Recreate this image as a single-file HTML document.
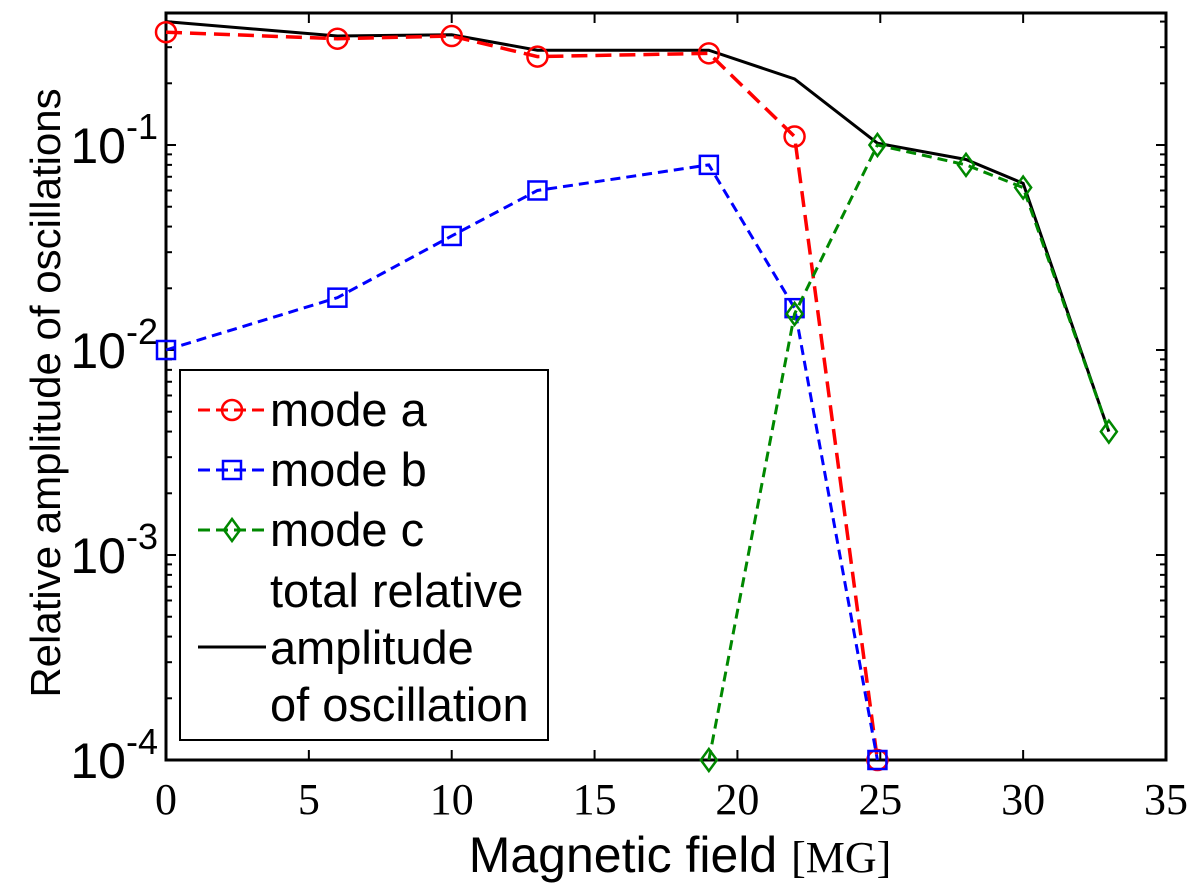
<!DOCTYPE html>
<html><head><meta charset="utf-8"><style>
body{margin:0;background:#fff;}
svg{display:block;font-family:"Liberation Sans",sans-serif;}
</style></head><body>
<svg width="1200" height="891">
<g id="plot"></g>
</svg>
<script>
const xTicks=[0,5,10,15,20,25,30,35];
const yDecades=[-4,-3,-2,-1];
const modeAx=[0,6,10,13,19,22,24.9];
const modeAy=[0.355,0.33,0.34,0.27,0.28,0.11,0.0001];
const modeBx=[0,6,10,13,19,22,24.9];
const modeBy=[0.01,0.018,0.036,0.06,0.08,0.016,0.0001];
const modeCx=[19,22,24.9,28,30,33];
const modeCy=[0.0001,0.015,0.1,0.08,0.062,0.004];
const totX=[0,6,10,13,19,22,24.9,28,30,33];
const totY=[0.4,0.34,0.345,0.29,0.29,0.21,0.102,0.085,0.065,0.004];

const L=166,R=1166,T=13,B=760;
const sx=v=>L+(v/35)*(R-L);
const sy=v=>B-(Math.log10(v)+4)*205;
const NS="http://www.w3.org/2000/svg";
const g=document.getElementById('plot');
function mk(t,a,p){const e=document.createElementNS(NS,t);for(const k in a)e.setAttribute(k,a[k]);(p||g).appendChild(e);return e;}

xTicks.forEach(v=>{
 if(v>0&&v<35){
  const t1=mk('line',{x1:sx(v),x2:sx(v),y1:B,y2:B-10,stroke:'#000','stroke-width':2});
  
  
  mk('line',{x1:sx(v),x2:sx(v),y1:T,y2:T+10,stroke:'#000','stroke-width':2});
 }
 const tl=mk('text',{x:sx(v),y:814,'text-anchor':'middle','font-size':44,'font-family':'Liberation Serif,serif'});
 tl.textContent=v;
 
 
});
yDecades.forEach(d=>{
 for(let m=1;m<10;m++){
  const v=m*Math.pow(10,d);const y=sy(v);
  if(y<T)continue;
  const len=m===1?10:6;
  mk('line',{x1:L,x2:L+len,y1:y,y2:y,stroke:'#000','stroke-width':2});
  mk('line',{x1:R,x2:R-len,y1:y,y2:y,stroke:'#000','stroke-width':2});
 }
 const t=mk('text',{x:158,y:sy(Math.pow(10,d))+18,'text-anchor':'end','font-size':50});
 t.innerHTML='10<tspan dy="-24" font-size="36">'+d+'</tspan>';
 
 
});
const frame=mk('rect',{x:L,y:T,width:R-L,height:B-T,fill:'none',stroke:'#000','stroke-width':3});



function series(xs,ys,color,dash,marker,name,w){
 const pts=xs.map((x,i)=>sx(x)+','+sy(ys[i])).join(' ');
 const pl=mk('polyline',{points:pts,fill:'none',stroke:color,'stroke-width':w,'stroke-dasharray':dash});
 
 
 if(marker) xs.forEach((x,i)=>drawMarker(marker,sx(x),sy(ys[i]),color,name));
}
function drawMarker(m,x,y,c,name,parent){
 let e;
 if(m==='o')e=mk('circle',{cx:x,cy:y,r:10,fill:'none',stroke:c,'stroke-width':2.5},parent);
 else if(m==='s')e=mk('rect',{x:x-9,y:y-9,width:18,height:18,fill:'none',stroke:c,'stroke-width':2.5},parent);
 else e=mk('polygon',{points:`${x},${y-11} ${x+8},${y} ${x},${y+11} ${x-8},${y}`,fill:'none',stroke:c,'stroke-width':2.5},parent);
 
 
}
series(totX,totY,'#000','', null,'total',3);
series(modeAx,modeAy,'#f00','16 8','o','mode-a',3.5);
series(modeBx,modeBy,'#00f','10 6','s','mode-b',3);
series(modeCx,modeCy,'#080','10 6','d','mode-c',3);

const lg=mk('g',{});


mk('rect',{x:180,y:370,width:368,height:370,fill:'#fff',stroke:'#000','stroke-width':2},lg);
const ent=[['mode a','#f00','o',410],['mode b','#00f','s',470],['mode c','#080','d',530]];
ent.forEach(([t,c,m,y])=>{
 mk('line',{x1:198,x2:266,y1:y,y2:y,stroke:c,'stroke-width':3,'stroke-dasharray':'12 6'},lg);
 drawMarker(m,232,y,c,t.replace(' ','-')+'-legend',lg);
 const tx=mk('text',{x:270,y:y+16,'font-size':47},lg);tx.textContent=t;
 
 
});
mk('line',{x1:198,x2:266,y1:647,y2:647,stroke:'#000','stroke-width':3},lg);
['total relative','amplitude','of oscillation'].forEach((t,i)=>{
 const tx=mk('text',{x:270,y:607+i*57,'font-size':47},lg);tx.textContent=t;
 
 
});

const xt=mk('text',{x:680,y:872,'text-anchor':'middle','font-size':50});
xt.innerHTML='Magnetic field <tspan font-family="Liberation Serif,serif" font-size="44">[MG]</tspan>';


const yt=mk('text',{x:0,y:0,'text-anchor':'middle','font-size':42,transform:'translate(60,393) rotate(-90)'});
yt.textContent='Relative amplitude of oscillations';


</script>
</body></html>
